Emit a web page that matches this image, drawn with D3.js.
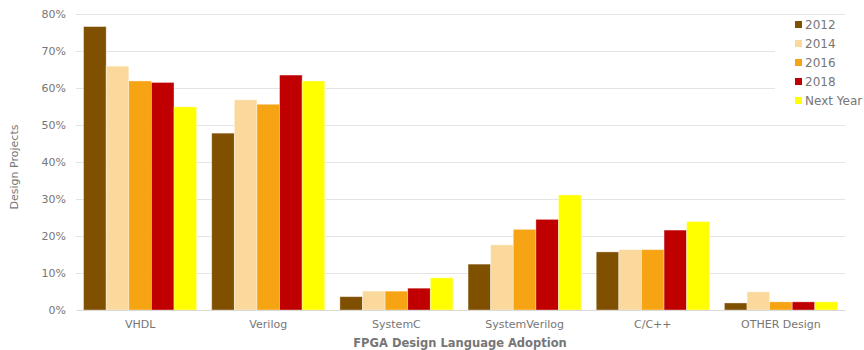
<!DOCTYPE html>
<html>
<head>
<meta charset="utf-8">
<script src="https://cdn.jsdelivr.net/npm/d3@7"></script>
<style>
  body { margin: 0; background: #fff; }
  text { font-family: "DejaVu Sans", Verdana, sans-serif; }
</style>
</head>
<body>
<div id="chart"></div>
<script>
// data
const categories = ["VHDL", "Verilog", "SystemC", "SystemVerilog", "C/C++", "OTHER Design"];
const years = ["2012", "2014", "2016", "2018", "Next Year"];
const colors = ["#7f5000", "#fbd89b", "#f6a314", "#c00000", "#ffff00"];
const v2012 = [76.6, 47.8, 3.6, 12.4, 15.7, 1.9];
const v2014 = [65.9, 56.8, 5.1, 17.6, 16.3, 4.9];
const v2016 = [61.9, 55.6, 5.1, 21.8, 16.3, 2.2];
const v2018 = [61.5, 63.5, 5.9, 24.5, 21.6, 2.2];
const vNext = [54.9, 61.9, 8.7, 31.1, 23.9, 2.2];
const yTicks = [0, 10, 20, 30, 40, 50, 60, 70, 80];

const series = [v2012, v2014, v2016, v2018, vNext];

const width = 864, height = 350;
const margin = {top: 14, right: 19, bottom: 40, left: 76};
const innerW = width - margin.left - margin.right;
const innerH = height - margin.top - margin.bottom;

const svg = d3.select("#chart").append("svg")
    .attr("width", width)
    .attr("height", height);

const g = svg.append("g")
    .attr("transform", `translate(${margin.left},${margin.top})`);

const x0 = d3.scaleBand()
    .domain(categories)
    .range([0, innerW])
    .paddingInner(0.118)
    .paddingOuter(0.059);

const x1 = d3.scaleBand()
    .domain(years)
    .range([0, x0.bandwidth()]);

const y = d3.scaleLinear()
    .domain([0, 80])
    .range([innerH, 0]);

// gridlines
g.append("g")
    .selectAll("line")
    .data(yTicks.filter(d => d > 0))
    .enter()
    .append("line")
    .attr("x1", 0)
    .attr("x2", innerW)
    .attr("y1", d => y(d) + 0.5)
    .attr("y2", d => y(d) + 0.5)
    .attr("stroke", "#e4e4e4")
    .attr("stroke-width", 1);

// y axis labels
const yAxis = g.append("g")
    .call(d3.axisLeft(y).tickValues(yTicks).tickFormat(d => d + "%").tickSize(0).tickPadding(10));
yAxis.select(".domain").remove();
yAxis.selectAll("text")
    .attr("fill", "#767676")
    .style("font-size", "11px");

// bars
const groups = g.append("g")
    .selectAll("g")
    .data(categories)
    .enter()
    .append("g")
    .attr("transform", d => `translate(${x0(d)},0)`);

groups.selectAll("rect")
    .data((c, i) => years.map((yr, k) => ({year: yr, value: series[k][i], color: colors[k]})))
    .enter()
    .append("rect")
    .attr("x", d => x1(d.year))
    .attr("width", x1.bandwidth())
    .attr("y", d => y(d.value))
    .attr("height", d => innerH - y(d.value))
    .attr("fill", d => d.color)
    .attr("stroke", "rgba(255,255,255,0.45)")
    .attr("stroke-width", 0.8);

// x axis
const xAxis = g.append("g")
    .attr("transform", `translate(0,${innerH})`)
    .call(d3.axisBottom(x0).tickSize(0).tickPadding(10));
xAxis.select(".domain").attr("stroke", "#d9d9d9");
xAxis.selectAll("text")
    .attr("fill", "#767676")
    .style("font-size", "11px");

// axis titles
svg.append("text")
    .attr("x", 460)
    .attr("y", 347)
    .attr("text-anchor", "middle")
    .attr("fill", "#767676")
    .style("font-size", "11.5px")
    .style("font-weight", "bold")
    .text("FPGA Design Language Adoption");

svg.append("text")
    .attr("transform", "translate(18,167) rotate(-90)")
    .attr("text-anchor", "middle")
    .attr("fill", "#767676")
    .style("font-size", "11px")
    .text("Design Projects");

// legend
const legend = svg.append("g")
    .attr("transform", "translate(775,17)");

legend.append("rect")
    .attr("width", 71)
    .attr("height", 98)
    .attr("fill", "#fff");

const items = legend.selectAll(".item")
    .data(years)
    .enter()
    .append("g")
    .attr("class", "item")
    .attr("transform", (d, i) => `translate(20,${8 + i * 19})`);

items.append("rect")
    .attr("x", 0)
    .attr("y", -4)
    .attr("width", 7)
    .attr("height", 7)
    .attr("fill", (d, i) => colors[i]);

items.append("text")
    .attr("x", 10)
    .attr("y", 0)
    .attr("dy", "0.35em")
    .attr("fill", "#767676")
    .style("font-size", "12px")
    .text(d => d);
</script>
</body>
</html>
